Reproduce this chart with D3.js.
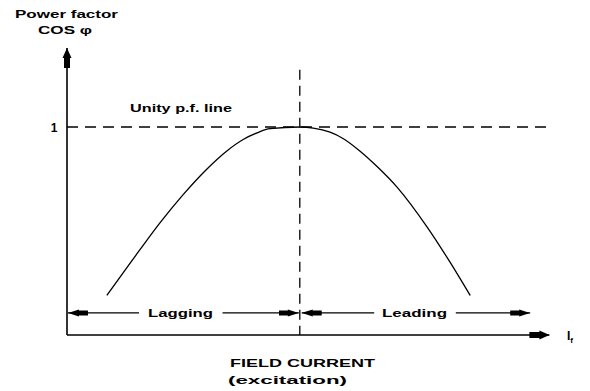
<!DOCTYPE html>
<html><head><meta charset="utf-8">
<script src="https://cdn.jsdelivr.net/npm/d3@7/dist/d3.min.js"></script>
<style>
html,body{margin:0;padding:0;background:#fff;}
text{font-family:"Liberation Sans",Arial,sans-serif;font-weight:bold;fill:#000;}
</style></head>
<body>
<svg id="chart" width="590" height="391"></svg>
<script>
// Data (field current in arbitrary units, power factor cos φ)
const fieldCurrent = [0.83, 1.52, 1.94, 2.42, 2.88, 3.33, 3.67, 3.96, 4.23, 4.85, 5.13, 5.48, 5.75, 6.10, 6.46, 6.88, 7.50, 7.98, 8.40];
const powerFactor  = [0.19, 0.41, 0.54, 0.675, 0.79, 0.885, 0.94, 0.972, 0.992, 1.00, 0.995, 0.975, 0.945, 0.885, 0.81, 0.71, 0.52, 0.35, 0.19];
const unityCurrent = 4.85;         // excitation giving unity p.f.
const yTickValues = [1];
const yTickLabels = ["1"];
const xAxisLabel = ["FIELD CURRENT", "(excitation)"];
const yAxisLabel = ["Power factor", "COS \u03C6"];
const regionLabels = ["Lagging", "Leading"];

const svg = d3.select("#chart");
const x = d3.scaleLinear().domain([0, 10]).range([67, 547]);
const y = d3.scaleLinear().domain([0, 1]).range([335, 127]);

// arrow markers
const defs = svg.append("defs");
defs.append("marker").attr("id","ah").attr("viewBox","0 -5 20 10")
  .attr("refX",20).attr("refY",0).attr("markerWidth",20).attr("markerHeight",10)
  .attr("markerUnits","userSpaceOnUse").attr("orient","auto-start-reverse")
  .append("path").attr("d","M0,-2.5 L9,-2.5 L9,-3.5 L20,0 L9,3.5 L9,2.5 L0,2.5 Z").attr("fill","#000");
defs.append("marker").attr("id","axh").attr("viewBox","0 -6 20 12")
  .attr("refX",20).attr("refY",0).attr("markerWidth",20).attr("markerHeight",12)
  .attr("markerUnits","userSpaceOnUse").attr("orient","auto")
  .append("path").attr("d","M0,-3 L10,-3 L10,-4.5 L20,0 L10,4.5 L10,3 L0,3 Z").attr("fill","#000");

// Y axis
svg.append("line").attr("x1",x(0)).attr("x2",x(0)).attr("y1",y(0)).attr("y2",y(1.38))
  .attr("stroke","#000").attr("stroke-width",1.6).attr("marker-end","url(#axh)");
// X axis
svg.append("line").attr("x1",x(0)).attr("x2",x(10.05)).attr("y1",y(0)).attr("y2",y(0))
  .attr("stroke","#000").attr("stroke-width",1.6).attr("marker-end","url(#axh)");

// Y tick labels
svg.selectAll(".ytl").data(yTickValues).enter().append("text")
  .attr("x", x(0)-13).attr("y", d=>y(d)+5).attr("text-anchor","middle")
  .attr("font-size",12).text((d,i)=>yTickLabels[i]);

// unity p.f. dashed line
svg.append("line").attr("x1",x(0)).attr("x2",x(10)).attr("y1",y(1)).attr("y2",y(1))
  .attr("stroke","#000").attr("stroke-width",1.3).attr("stroke-dasharray","11,7");
svg.append("text").attr("x",130).attr("y",y(1)-15).attr("font-size",11)
  .attr("textLength",102).attr("lengthAdjust","spacingAndGlyphs").text("Unity p.f. line");

// vertical dashed line at unity current
svg.append("line").attr("x1",x(unityCurrent)).attr("x2",x(unityCurrent)).attr("y1",y(1.275)).attr("y2",y(0))
  .attr("stroke","#000").attr("stroke-width",1.3).attr("stroke-dasharray","10,6");

// curve
const line = d3.line().x((d,i)=>x(fieldCurrent[i])).y(d=>y(d)).curve(d3.curveMonotoneX);
svg.append("path").datum(powerFactor).attr("d",line)
  .attr("fill","none").attr("stroke","#000").attr("stroke-width",1.3);

// Lagging / Leading range arrows
const ay = y(0.106);
const segs = [
  {x1:0.02, x2:1.5, start:true, end:false},
  {x1:3.24, x2:unityCurrent-0.02, start:false, end:true},
  {x1:unityCurrent+0.04, x2:6.4, start:true, end:false},
  {x1:8.1, x2:9.65, start:false, end:true}
];
svg.selectAll(".seg").data(segs).enter().append("line")
  .attr("x1",d=>x(d.x1)).attr("x2",d=>x(d.x2)).attr("y1",ay).attr("y2",ay)
  .attr("stroke","#000").attr("stroke-width",1.2)
  .attr("marker-start",d=>d.start?"url(#ah)":null)
  .attr("marker-end",d=>d.end?"url(#ah)":null);
svg.append("text").attr("x",148).attr("y",ay+4.5).attr("font-size",11)
  .attr("textLength",65).attr("lengthAdjust","spacingAndGlyphs").text(regionLabels[0]);
svg.append("text").attr("x",382).attr("y",ay+4.5).attr("font-size",11)
  .attr("textLength",65).attr("lengthAdjust","spacingAndGlyphs").text(regionLabels[1]);

// axis titles
const yLabW = [103, 54], yLabX = [15, 38], yLabY = [18, 34];
svg.selectAll(".yal").data(yAxisLabel).enter().append("text")
  .attr("x",(d,i)=>yLabX[i]).attr("y",(d,i)=>yLabY[i]).attr("font-size",11)
  .attr("textLength",(d,i)=>yLabW[i]).attr("lengthAdjust","spacingAndGlyphs").text(d=>d);
const xLabW = [145, 119], xLabX = [230, 228], xLabY = [367, 384];
svg.selectAll(".xal").data(xAxisLabel).enter().append("text")
  .attr("x",(d,i)=>xLabX[i]).attr("y",(d,i)=>xLabY[i]).attr("font-size",11)
  .attr("textLength",(d,i)=>xLabW[i]).attr("lengthAdjust","spacingAndGlyphs").text(d=>d);

// I_f label
const lf = svg.append("text").attr("x",567).attr("y",y(0)+5).attr("font-size",12);
lf.append("tspan").text("I");
lf.append("tspan").attr("font-size",8).attr("dy",3).text("f");
</script>
</body></html>
